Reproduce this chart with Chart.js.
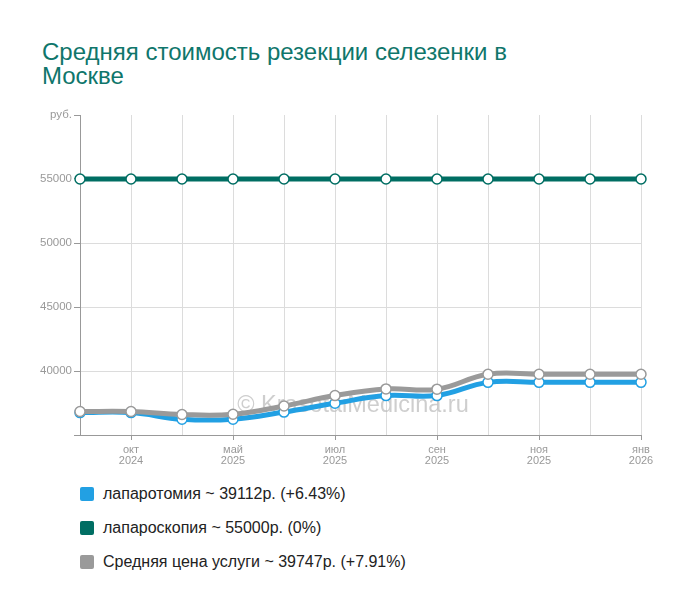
<!DOCTYPE html>
<html lang="ru">
<head>
    <meta charset="UTF-8">
    <title>Средняя стоимость резекции селезенки в Москве</title>
    <script src="https://cdn.jsdelivr.net/npm/chart.js"></script>
    <style>
        body { margin: 0; width: 700px; height: 612px; background: #fff; font-family: "Liberation Sans", Arial, sans-serif; position: relative; overflow: hidden; }
        h1 { position: absolute; left: 42px; top: 40px; margin: 0; font-weight: normal; font-size: 24px; line-height: 24px; color: #0f766b; }
        .chart-box { position: absolute; left: 0; top: 100px; width: 700px; height: 370px; }
        .legend { position: absolute; left: 80px; top: 485px; }
        .legend div { height: 34px; font-size: 16px; color: #222; display: flex; align-items: flex-start; }
        .legend span.box { width: 14px; height: 14px; border-radius: 2px; margin: 2px 9px 0 0; display: inline-block; }
    </style>
</head>
<body>
    <h1>Средняя стоимость резекции селезенки в<br>Москве</h1>
    <div class="chart-box"><canvas id="priceChart"></canvas></div>
    <div class="legend" id="legend"></div>

    <script>
        // месяцы (подписи только у нечётных точек)
        const months = ['', ['окт', '2024'], '', ['май', '2025'], '', ['июл', '2025'], '', ['сен', '2025'], '', ['ноя', '2025'], '', ['янв', '2026']];

        const laparotomy = [36749, 36749, 36230, 36230, 36790, 37480, 38080, 38080, 39112, 39112, 39112, 39112];
        const laparoscopy = [55000, 55000, 55000, 55000, 55000, 55000, 55000, 55000, 55000, 55000, 55000, 55000];
        const average = [36834, 36834, 36600, 36620, 37270, 38080, 38600, 38580, 39747, 39747, 39747, 39747];

        const seriesNames = ['лапаротомия', 'лапароскопия', 'Средняя цена услуги'];
        const seriesColors = ['#22a0e3', '#006e63', '#9a9a9a'];
        const legendTexts = ['лапаротомия ~ 39112р. (+6.43%)', 'лапароскопия ~ 55000р. (0%)', 'Средняя цена услуги ~ 39747р. (+7.91%)'];

        const yTicks = [35000, 40000, 45000, 50000, 55000, 60000];

        // legend
        const legendEl = document.getElementById('legend');
        legendTexts.forEach((t, i) => {
            const row = document.createElement('div');
            row.innerHTML = '<span class="box" style="background:' + seriesColors[i] + '"></span>' + t;
            legendEl.appendChild(row);
        });

        // watermark behind the lines
        const watermark = {
            id: 'watermark',
            beforeDatasetsDraw(chart) {
                const c = chart.ctx;
                c.save();
                c.font = '23.5px "Liberation Sans", Arial, sans-serif';
                c.fillStyle = 'rgba(190,190,190,0.75)';
                c.textAlign = 'center';
                c.textBaseline = 'middle';
                c.fillText('© KrasotaiMedicina.ru', 353, 306);
                c.restore();
            }
        };

        function makeSet(i, data, order) {
            return {
                label: seriesNames[i],
                data: data,
                borderColor: seriesColors[i],
                borderWidth: 5,
                tension: 0.4,
                fill: false,
                pointRadius: 5,
                pointHoverRadius: 5,
                pointBackgroundColor: '#fff',
                pointBorderColor: seriesColors[i],
                pointBorderWidth: 1.5,
                order: order
            };
        }

        const ctx = document.getElementById('priceChart').getContext('2d');
        new Chart(ctx, {
            type: 'line',
            data: {
                labels: months,
                datasets: [
                    makeSet(0, laparotomy, 2),
                    makeSet(1, laparoscopy, 1),
                    makeSet(2, average, 0)
                ]
            },
            options: {
                responsive: true,
                maintainAspectRatio: false,
                animation: false,
                layout: { padding: { top: 15, right: 59, bottom: 0, left: 0 } },
                plugins: {
                    legend: { display: false },
                    tooltip: { enabled: false }
                },
                scales: {
                    x: {
                        afterFit(scale) { scale.height = 35; },
                        grid: {
                            color: '#dcdcdc',
                            tickLength: 5,
                            tickColor: c => (months[c.index] ? '#999' : 'rgba(0,0,0,0)')
                        },
                        border: { color: '#999' },
                        ticks: {
                            autoSkip: false,
                            maxRotation: 0,
                            padding: 4,
                            color: '#999',
                            font: { size: 11, family: '"Liberation Sans", Arial, sans-serif', lineHeight: 1.0 }
                        }
                    },
                    y: {
                        min: 35000,
                        max: 60000,
                        afterFit(scale) { scale.width = 80; },
                        afterBuildTicks(scale) { scale.ticks = yTicks.map(v => ({ value: v })); },
                        grid: {
                            color: c => (c.tick && (c.tick.value === 60000 || c.tick.value === 35000) ? 'rgba(0,0,0,0)' : '#dcdcdc'),
                            tickLength: 6,
                            tickColor: '#999'
                        },
                        border: { color: '#999' },
                        ticks: {
                            padding: 2,
                            color: '#999',
                            font: { size: 11.5, family: '"Liberation Sans", Arial, sans-serif' },
                            callback: v => (v === 60000 ? 'руб.' : (v === 35000 ? '' : String(v)))
                        }
                    }
                }
            },
            plugins: [watermark]
        });
    </script>
</body>
</html>
